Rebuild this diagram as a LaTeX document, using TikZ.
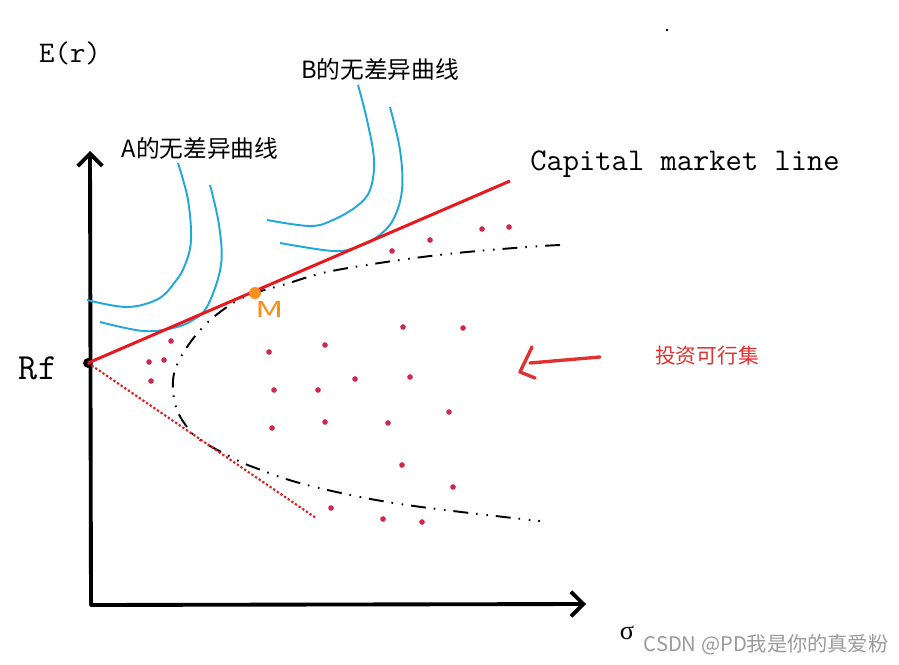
\documentclass[tikz,border=0pt]{standalone}
\usepackage{fontspec}
\usetikzlibrary{arrows.meta}
\newfontfamily\cjk{Noto Sans CJK SC}
\newfontfamily\serf{Liberation Serif}
\definecolor{cmlred}{HTML}{E8191E}
\definecolor{icblue}{HTML}{20A8DC}
\definecolor{morange}{HTML}{F7901E}
\definecolor{dotred}{HTML}{D0284A}
\definecolor{txtred}{HTML}{E03030}
\definecolor{wmgray}{HTML}{9A9A9A}
\begin{document}
\begin{tikzpicture}[x=0.02cm,y=-0.02cm,
  axisline/.style={line width=2.2pt,line cap=round,-{Straight Barb[length=7pt,width=14pt,line width=2.2pt]}},
  cmlline/.style={cmlred,line width=1.7pt},
  icurve/.style={icblue,line width=1.1pt},
  frontier/.style={black,line width=1.1pt,dash pattern=on 8.5pt off 4.5pt on 0.9pt off 5pt on 0.9pt off 4.5pt},
  lowline/.style={cmlred,line width=1.2pt,dash pattern=on 1.3pt off 1.2pt},
  pdot/.style={fill=dotred,draw=none,circle,inner sep=0pt,minimum size=3.2pt},
  lbl/.style={inner sep=0pt,anchor=center},
  cjklbl/.style={lbl,font=\cjk\fontsize{13.5pt}{15pt}\selectfont},
  monolbl/.style={lbl,font=\ttfamily\fontsize{18pt}{20pt}\selectfont}]
\useasboundingbox (0,0) rectangle (899,665);
% axes
\coordinate (origin) at (91,605);
\coordinate (ytip) at (90,151);
\coordinate (xtip) at (586,604);
\draw[axisline] (origin) -- (ytip);
\draw[axisline] (origin) -- (xtip);
% frontier
\draw[frontier] plot[smooth,tension=0.6] coordinates {(560,245) (527,247) (457,253) (393,261) (327,272) (286,284) (255,293) (233,303) (207,323) (187,347) (175,370) (173,390) (177,410) (187,427) (200,440) (233,458) (253,467) (307,485) (400,504) (540,521)};
% indifference curves
\draw[icurve] plot[smooth,tension=0.6] coordinates {(178,163) (188,200) (191,240) (185,265) (175,282) (158,299) (127,307) (87,300)};
\draw[icurve] plot[smooth,tension=0.6] coordinates {(210,185) (219,225) (221,265) (208,305) (193,320) (173,328) (143,331) (100,322)};
\draw[icurve] plot[smooth,tension=0.6] coordinates {(358,85) (367,120) (374,160) (370,190) (357,206) (333,220) (310,226) (267,220)};
\draw[icurve] plot[smooth,tension=0.6] coordinates {(390,107) (400,150) (402,190) (393,220) (377,237) (357,247) (333,251) (280,243)};
% points
\node[circle,fill=black,inner sep=0pt,minimum size=5.6pt] (rf) at (88,363) {};
\coordinate (cmlend) at (510,181);
\coordinate (dotend) at (316,518);
\draw[lowline] (rf.center) -- (dotend);
\draw[cmlline] (rf.center) -- (cmlend);
\node[circle,fill=morange,inner sep=0pt,minimum size=6.8pt] (m) at (255,293) {};
\node[lbl,text=morange,font=\cjk\fontsize{12.5pt}{13pt}\selectfont] (mlabel) at (270,309) {\scalebox{1.6}[1]{M}};
% feasible set dots
\foreach \p [count=\i] in {(392,251),(430,240),(482,229),(509,227),(171,341),(149,362),(164,360),(151,381),(269,352),(325,345),(403,327),(463,328),(274,390),(318,390),(355,379),(410,377),(272,428),(325,422),(388,423),(449,412),(402,465),(453,487),(331,508),(383,519),(422,522)}
  \node[pdot] (d\i) at \p {};
% hand-drawn arrow
\coordinate (arrtail) at (600,357);
\coordinate (arrhead) at (530,363);
\draw[txtred,line width=1.9pt,line cap=round] (arrtail) -- (arrhead);
\draw[txtred,line width=1.9pt,line cap=round,line join=round] (532,347) -- (520,372) -- (535,378);
% labels
\node[lbl,font=\ttfamily\fontsize{17pt}{19pt}\selectfont] (er) at (70,53) {E(r)};
\node[lbl,font=\ttfamily\fontsize{21pt}{23pt}\selectfont] (rflabel) at (38,368) {Rf};
\node[cjklbl] (alabel) at (200,148) {A的无差异曲线};
\node[cjklbl] (blabel) at (380,69) {B的无差异曲线};
\node[monolbl] (cmllabel) at (685,164) {Capital market line};
\node[lbl,text=txtred,font=\cjk\fontsize{11.8pt}{13pt}\selectfont] (setlabel) at (707,356) {投资可行集};
\node[lbl,font=\serf\fontsize{15pt}{16pt}\selectfont] (sigma) at (627,633) {σ};
\node[lbl,text=wmgray,font=\cjk\fontsize{11.5pt}{13pt}\selectfont] (wm) at (766,645) {CSDN @PD我是你的真爱粉};
\fill (667,30) circle (1.4);
\end{tikzpicture}
\end{document}
